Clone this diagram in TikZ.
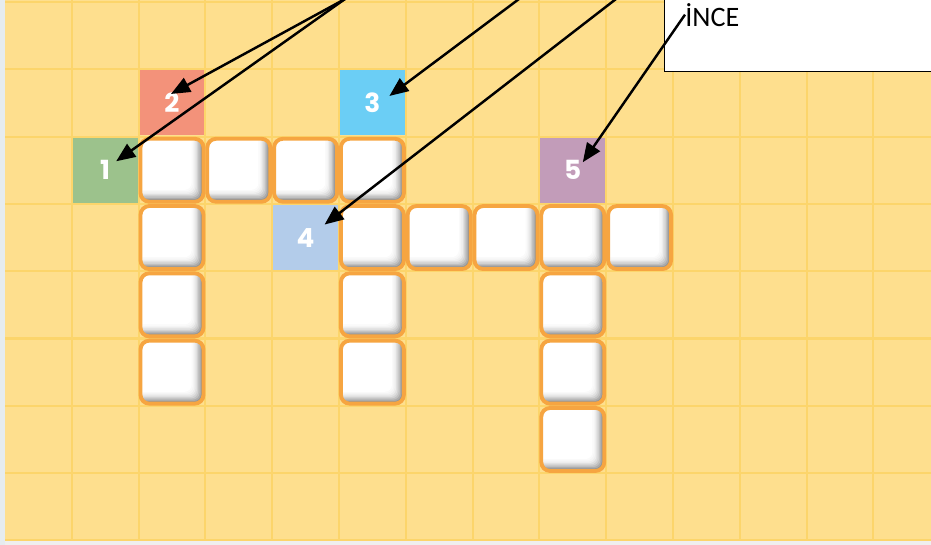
\documentclass[tikz,border=0pt]{standalone}
\usepackage{fontspec}
\setmainfont{Carlito}
\newfontfamily\numfont{Poppins}
\usetikzlibrary{arrows.meta,calc}
\definecolor{cBg}{HTML}{FEDF8E}
\definecolor{cLine}{HTML}{FCD56B}
\definecolor{cEdge}{HTML}{E6ECEF}
\definecolor{cFoot}{HTML}{EFEFEF}
\definecolor{cOrange}{HTML}{F6A541}
\definecolor{cGreen}{HTML}{9CC28C}
\definecolor{cSalmon}{HTML}{F3927A}
\definecolor{cSky}{HTML}{6BCEF5}
\definecolor{cPale}{HTML}{B3CCEA}
\definecolor{cMauve}{HTML}{C29CB9}
\tikzset{
  cell-num/.style={minimum size=1.3cm,inner sep=0pt,text=white,
    font=\numfont\bfseries\fontsize{15}{15}\selectfont},
  cell-blank/.style={draw=cOrange,line width=2.2pt,fill=white,
    rounded corners=5pt,minimum size=1.26cm,inner sep=0pt,
    path picture={
      \foreach \k/\g in {0/52,1/42,2/33,3/25,4/18,5/12,6/7,7/4,8/2,9/0}
        \fill[black!\g!white,rounded corners=4pt]
          ([shift={(-3pt,3pt)}]path picture bounding box.north west) rectangle
          ([xshift=-\k*0.75pt,yshift=\k*0.75pt]path picture bounding box.south east);
    }},
  callout/.style={draw=black,fill=white,line width=0.7pt},
  arrow/.style={-{Triangle[length=3.8mm,width=3.1mm]},line width=1.4pt,draw=black},
  grid-line/.style={cLine,line width=1.2pt},
}

\begin{document}
\begin{tikzpicture}[x=0.02cm,y=-0.02cm]
  \useasboundingbox (0,0) rectangle (931,545);
  % board
  \fill[cFoot] (0,0) rectangle (931,545);
  \fill[cEdge] (0,0) rectangle (5,545);
  \fill[cBg] (5,0) rectangle (931,540);
  \foreach \c in {1,...,13}
    \draw[grid-line] ({5+66.8*\c},0) -- ({5+66.8*\c},540);
  \foreach \r in {0,...,8}
    \draw[grid-line] (5,{2+67.3*\r}) -- (931,{2+67.3*\r});

  % empty squares
  \foreach \c/\r in {2/2,3/2,4/2,5/2,2/3,5/3,6/3,7/3,8/3,9/3,2/4,5/4,8/4,2/5,5/5,8/5,8/6}
    \node[cell-blank] (b\c\r) at ({5+66.8*(\c+.5)},{2+67.3*(\r+.5)}) {};

  % numbered squares
  \foreach \n/\c/\r/\col in {1/1/2/cGreen,2/2/1/cSalmon,3/5/1/cSky,4/4/3/cPale,5/8/2/cMauve}
    \node[cell-num,fill=\col] (n\n) at ({5+66.8*(\c+.5)},{2+67.3*(\r+.5)}) {\n};

  % callout
  \node[callout,anchor=south west,minimum width=6cm,minimum height=2cm,inner sep=0pt]
    (box) at (664,72) {};
  \node[anchor=base west,inner sep=0pt,font=\fontsize{16}{16}\selectfont] (ince) at (685,26) {İNCE};

  \coordinate (s12) at (345,-1);
  \coordinate (s3) at (519,-1);
  \coordinate (s4) at (616,-1);
  \draw[arrow] (s12) -- ([shift={(11,-9)}]n1.center);
  \draw[arrow] (s12) -- ([shift={(-1,-9)}]n2.center);
  \draw[arrow] (s3) -- ([shift={(17,-7)}]n3.center);
  \draw[arrow] (s4) -- ([shift={(19,-13)}]n4.center);
  \draw[arrow] (ince.west) -- ([shift={(10,-8)}]n5.center);
\end{tikzpicture}
\end{document}
